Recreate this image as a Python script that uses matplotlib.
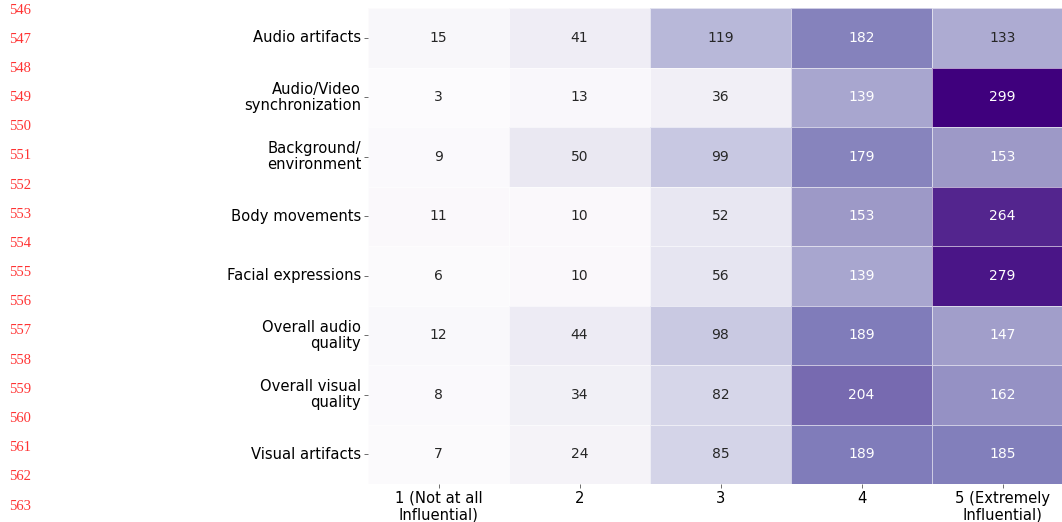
import matplotlib
matplotlib.use("Agg")
import matplotlib.pyplot as plt
import numpy as np
import seaborn as sns

aspects = [
    "Audio artifacts",
    "Audio/Video\nsynchronization",
    "Background/\nenvironment",
    "Body movements",
    "Facial expressions",
    "Overall audio\nquality",
    "Overall visual\nquality",
    "Visual artifacts",
]
ratings = ["1 (Not at all\nInfluential)", "2", "3", "4", "5 (Extremely\nInfluential)"]

r1 = [15, 3, 9, 11, 6, 12, 8, 7]
r2 = [41, 13, 50, 10, 10, 44, 34, 24]
r3 = [119, 36, 99, 52, 56, 98, 82, 85]
r4 = [182, 139, 179, 153, 139, 189, 204, 189]
r5 = [133, 299, 153, 264, 279, 147, 162, 185]

line_numbers = list(range(546, 564))

counts = np.array([r1, r2, r3, r4, r5]).T

W, H = 1062, 522
fig = plt.figure(figsize=(W / 100, H / 100), dpi=100)
ax = fig.add_axes([368 / W, 1 - 484 / H, (1073 - 368) / W, (484 - 8) / H])

sns.heatmap(counts, ax=ax, cmap="Purples", annot=True, fmt="d", cbar=False,
            linewidths=0.6, linecolor=(1, 1, 1, 0.6),
            annot_kws={"fontsize": 10})
ax.set_xticklabels(ratings, rotation=0, fontsize=10.6, linespacing=1.1)
ax.set_yticklabels(aspects, rotation=0, fontsize=10.6, ha="right",
                   linespacing=1.1)
ax.tick_params(axis="both", length=3, width=0.6, color="#555555", pad=2)

# margin line numbering
for i, n in enumerate(line_numbers):
    y = 10 + i * (506 - 10) / (len(line_numbers) - 1)
    fig.text(9 / W, 1 - y / H, str(n), color="#ff3333", fontsize=10.5,
             family="Liberation Serif", va="center", ha="left")

fig.savefig("out.png", dpi=100)
